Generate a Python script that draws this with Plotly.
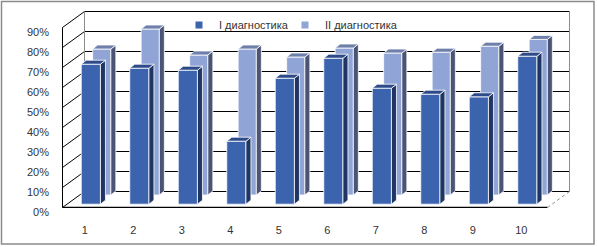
import plotly.graph_objects as go

# ---- data ----
categories = [1, 2, 3, 4, 5, 6, 7, 8, 9, 10]
category_labels = ["1", "2", "3", "4", "5", "6", "7", "8", "9", "10"]
series_names = ["I диагностика", "II диагностика"]
diag_1 = [0.70, 0.68, 0.67, 0.315, 0.63, 0.73, 0.58, 0.55, 0.537, 0.74]
diag_2 = [0.73, 0.83, 0.70, 0.73, 0.69, 0.735, 0.71, 0.714, 0.744, 0.778]
y_ticks = [0, 0.1, 0.2, 0.3, 0.4, 0.5, 0.6, 0.7, 0.8, 0.9]
y_tick_labels = ["0%", "10%", "20%", "30%", "40%", "50%", "60%", "70%", "80%", "90%"]

# ---- geometry (pixel based constants converted to axis units) ----
PXX = 48.5   # px per x unit
PXY = 200.0  # px per y unit
X0 = 0.5 - 0.5 / PXX
X1 = X0 + 510 / PXX
Y0 = -0.5 / PXY
Y1 = Y0 + 1.0
WALL_DX, WALL_DY = 22 / PXX, 16 / PXY       # depth of the floor/back wall
BAR_DX, BAR_DY = 5 / PXX, 4 / PXY            # depth of each column

rows = [
    dict(values=diag_2, name=series_names[1], off_x=15.0 / PXX, off_y=12.5 / PXY, hw=9.1 / PXX,
         front="#91A4D6", side="#4A5575", top="#6E7FAA", legend="legend2", lx=285),
    dict(values=diag_1, name=series_names[0], off_x=4.1 / PXX, off_y=3.3 / PXY, hw=9.6 / PXX,
         front="#3C64AE", side="#1F3563", top="#2D4A89", legend="legend", lx=179),
]

fig = go.Figure()

for r in rows:
    xs = [c + r["off_x"] for c in categories]
    fig.add_trace(go.Bar(
        x=xs, y=r["values"], base=[r["off_y"]] * len(xs), width=2 * r["hw"],
        marker=dict(color=r["front"], line=dict(color="white", width=0.8)),
        showlegend=False, name=r["name"], hoverinfo="skip",
    ))
    sx, sy, tx, ty = [], [], [], []
    for xc, v in zip(xs, r["values"]):
        xl, xr = xc - r["hw"], xc + r["hw"]
        b = r["off_y"]
        t = b + v
        sx += [xr, xr + BAR_DX, xr + BAR_DX, xr, xr, None]
        sy += [b, b + BAR_DY, t + BAR_DY, t, b, None]
        tx += [xl, xr, xr + BAR_DX, xl + BAR_DX, xl, None]
        ty += [t, t, t + BAR_DY, t + BAR_DY, t, None]
    fig.add_trace(go.Scatter(x=sx, y=sy, fill="toself", fillcolor=r["side"], mode="lines",
                             line=dict(color="white", width=0.8), showlegend=False, hoverinfo="skip"))
    fig.add_trace(go.Scatter(x=tx, y=ty, fill="toself", fillcolor=r["top"], mode="lines",
                             line=dict(color="white", width=0.8), showlegend=False, hoverinfo="skip"))

# legend entries
for r in [rows[1], rows[0]]:
    fig.add_trace(go.Scatter(x=[None], y=[None], mode="markers", name=r["name"], legend=r["legend"],
                             marker=dict(symbol="square", size=7, color=r["front"])))

shapes = []
xa, xb = categories[0] - 0.5, categories[-1] + 0.5
ytop = y_ticks[-1]
# back wall gridlines
for v in y_ticks:
    shapes.append(dict(type="line", xref="x", yref="y", x0=xa + WALL_DX, x1=xb + WALL_DX,
                       y0=v + WALL_DY, y1=v + WALL_DY, line=dict(color="black", width=1), layer="below"))
    # side wall diagonals
    shapes.append(dict(type="line", xref="x", yref="y", x0=xa, x1=xa + WALL_DX,
                       y0=v, y1=v + WALL_DY, line=dict(color="black", width=1), layer="below"))
# back wall vertical edges
for xe in (xa + WALL_DX, xb + WALL_DX):
    shapes.append(dict(type="line", xref="x", yref="y", x0=xe, x1=xe, y0=WALL_DY, y1=ytop + WALL_DY,
                       line=dict(color="#8C8C8C", width=1), layer="below"))
# front vertical axis line
shapes.append(dict(type="line", xref="x", yref="y", x0=xa, x1=xa, y0=0, y1=ytop,
                   line=dict(color="black", width=1), layer="below"))
# floor front edge
shapes.append(dict(type="line", xref="x", yref="y", x0=xa, x1=xb, y0=0, y1=0,
                   line=dict(color="black", width=1.3), layer="below"))
# floor right edge
shapes.append(dict(type="line", xref="x", yref="y", x0=xb, x1=xb + WALL_DX, y0=0, y1=WALL_DY,
                   line=dict(color="#8C8C8C", width=1, dash="dot"), layer="below"))
# outer chart border
shapes.append(dict(type="rect", xref="paper", yref="paper",
                   x0=(1.5 - 62) / 510, x1=(594 - 62) / 510, y0=(208 - 244) / 200, y1=(208 - 1.5) / 200,
                   line=dict(color="#8C8C8C", width=1.5), fillcolor="rgba(0,0,0,0)", layer="below"))

font_family = "Liberation Sans, Arial, sans-serif"
legend_common = dict(orientation="h", xanchor="left", y=(208 - 25) / 200, yanchor="middle",
                     bgcolor="rgba(0,0,0,0)", font=dict(size=11, color="#333333"), itemwidth=30,
                     borderwidth=0)
fig.update_layout(
    width=597, height=247,
    margin=dict(l=62, r=25, t=8, b=39, pad=0, autoexpand=False),
    paper_bgcolor="white", plot_bgcolor="white",
    barmode="overlay",
    shapes=shapes,
    font=dict(family=font_family, size=11, color="#333333"),
    legend=dict(x=(rows[1]["lx"] - 62) / 510, **legend_common),
    legend2=dict(x=(rows[0]["lx"] - 62) / 510, **legend_common),
    xaxis=dict(range=[X0, X1], tickmode="array", tickvals=categories, ticktext=category_labels,
               showgrid=False, zeroline=False, showline=False, ticks="", ticklabelstandoff=14,
               ticklabelshift=-2, fixedrange=True),
    yaxis=dict(range=[Y0, Y1], tickmode="array", tickvals=y_ticks, ticktext=y_tick_labels,
               showgrid=False, zeroline=False, showline=False, ticks="", ticklabelstandoff=12,
               ticklabelshift=5, fixedrange=True),
)

fig.write_html("out.html", config={"displayModeBar": False},
               post_script="document.body.style.margin='0';document.body.style.overflow='hidden';")
